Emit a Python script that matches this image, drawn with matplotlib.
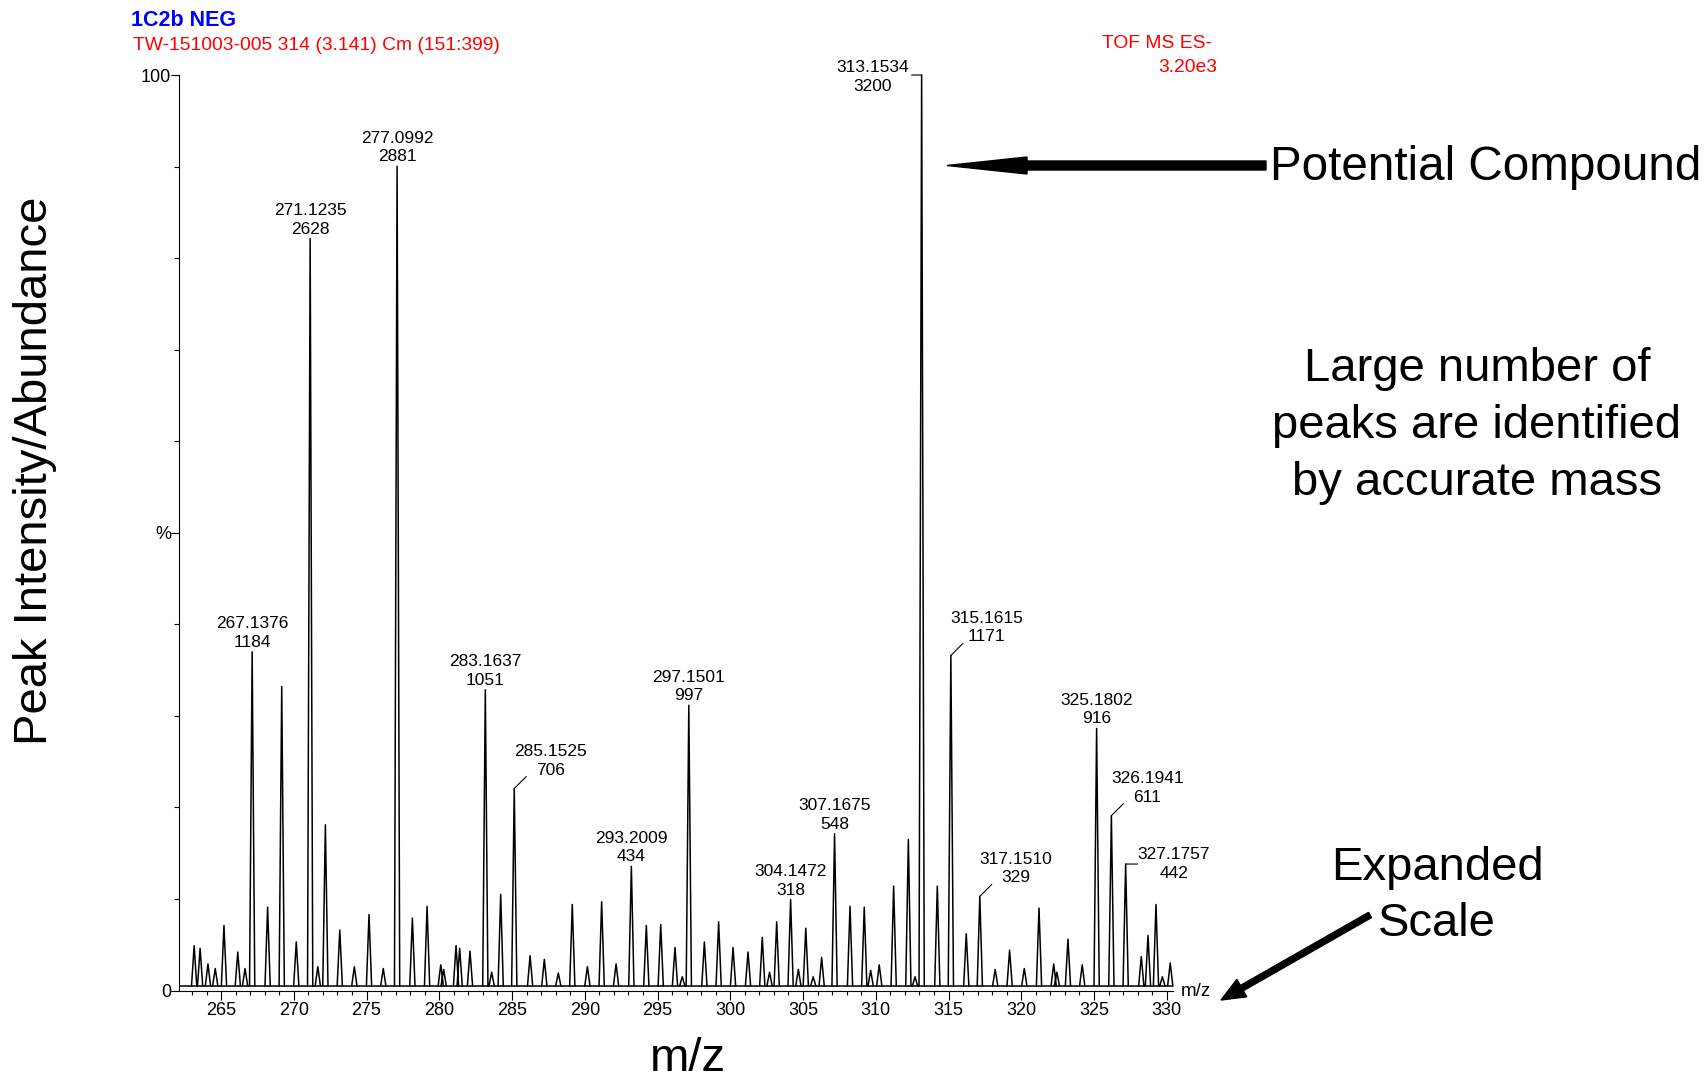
import numpy as np
import matplotlib
matplotlib.use('Agg')
import matplotlib.pyplot as plt
from matplotlib.patches import FancyArrow
from matplotlib.transforms import IdentityTransform

W, H = 1707, 1080
plt.rcParams['font.family'] = ['Liberation Sans', 'DejaVu Sans']

# labelled peaks (m/z, counts) and how the label is placed
label_mz = [267.1376, 271.1235, 277.0992, 283.1637, 285.1525, 293.2009, 297.1501,
            304.1472, 307.1675, 313.1534, 315.1615, 317.1510, 325.1802, 326.1941, 327.1757]
label_counts = [1184, 2628, 2881, 1051, 706, 434, 997, 318, 548, 3200, 1171, 329, 916, 611, 442]
label_style = ['top', 'top', 'top', 'top', 'diag', 'top', 'top', 'top', 'top',
               'left', 'diag', 'diag', 'top', 'diag', 'right']
full_scale = 3200

# unlabelled peaks (% of full scale)
minor_mz = [263.15, 263.56, 264.10, 264.60, 265.20, 266.15, 266.65, 268.20, 269.17, 270.17,
            271.65, 272.17, 273.16, 274.16, 275.17, 276.15, 278.15, 279.16, 280.10, 280.30,
            281.15, 281.40, 282.11, 283.60, 284.22, 286.24, 287.22, 288.18, 289.14, 290.18,
            291.16, 292.15, 294.23, 295.22, 296.20, 296.70, 298.22, 299.20, 300.19, 301.22,
            302.20, 302.70, 303.19, 304.68, 305.19, 305.70, 306.28, 308.23, 309.21, 309.65,
            310.24, 311.23, 312.24, 312.70, 314.23, 316.22, 318.21, 319.20, 320.21, 321.22,
            322.23, 322.45, 323.21, 324.19, 328.25, 328.71, 329.26, 329.70, 330.24]
minor_pct = [4.9, 4.6, 2.9, 2.4, 7.1, 4.2, 2.4, 9.1, 33.2, 5.3,
             2.6, 18.1, 6.6, 2.6, 8.3, 2.4, 7.9, 9.2, 2.8, 2.3,
             4.9, 4.6, 4.3, 2.0, 10.5, 3.8, 3.4, 1.9, 9.4, 2.6,
             9.7, 2.9, 7.1, 7.2, 4.7, 1.5, 5.3, 7.5, 4.7, 4.2,
             5.8, 2.0, 7.5, 2.3, 6.8, 1.5, 3.6, 9.2, 9.1, 2.2,
             2.8, 11.4, 16.5, 1.5, 11.4, 6.2, 2.3, 4.4, 2.4, 9.0,
             2.9, 2.0, 5.6, 2.8, 3.7, 6.0, 9.4, 1.5, 3.0]
base_pct = 0.5

x_ticks = list(range(265, 331, 5))

label_pct = [c / full_scale * 100 for c in label_counts]
all_mz = minor_mz + label_mz
all_pct = minor_pct + label_pct

fig = plt.figure(figsize=(W / 100, H / 100), dpi=100)
ax = fig.add_axes([179.3 / W, 1 - 990.5 / H, (1173 - 179.3) / W, (990.5 - 75) / H])

# profile peaks
hw = 0.18
xs, ys = [], []
for m, p in zip(all_mz, all_pct):
    xs += [m - hw, m, m + hw, np.nan]
    ys += [base_pct, p, base_pct, np.nan]
ax.plot(xs, ys, color='black', lw=1.1, clip_on=False)
ax.plot([262.2, 330.35], [base_pct, base_pct], color='black', lw=1.1)

ax.set_xlim(262.13, 330.43)
ax.set_ylim(0, 100)
for s in ['top', 'right']:
    ax.spines[s].set_visible(False)
for s in ['left', 'bottom']:
    ax.spines[s].set_linewidth(0.8)

ax.set_xticks(x_ticks)
ax.set_xticklabels([str(t) for t in x_ticks])
ax.set_xticks(range(263, 331), minor=True)
ax.set_yticks([0, 50, 100])
ax.set_yticklabels(['0', '%', '100'])
ax.set_yticks(range(10, 100, 10), minor=True)
ax.tick_params(axis='x', which='major', length=6.5, width=0.8, labelsize=13, pad=2)
ax.tick_params(axis='x', which='minor', length=3.2, width=0.8)
ax.tick_params(axis='y', which='major', length=5.8, width=0.8, labelsize=13, pad=0)
ax.tick_params(axis='y', which='minor', length=3.6, width=0.8)

# peak labels
fs = 12.5
for m, c, p, st in zip(label_mz, label_counts, label_pct, label_style):
    txt = f'{m:.4f}\n{c}'
    kw = dict(textcoords='offset pixels', fontsize=fs, ha='center', linespacing=1.3,
              annotation_clip=False)
    lead = dict(arrowstyle='-', lw=0.8, color='black', shrinkA=0, shrinkB=0)
    if st == 'top':
        ax.annotate(txt, (m, p), xytext=(0, 2), va='bottom', **kw)
    elif st == 'diag':
        ax.annotate('', (m, p), xytext=(12, 12), textcoords='offset pixels', arrowprops=lead)
        ax.annotate(txt, (m, p), xytext=(36, 11), va='bottom', **kw)
    elif st == 'right':
        ax.annotate('', (m, p), xytext=(12, 0), textcoords='offset pixels', arrowprops=lead)
        ax.annotate(txt, (m, p), xytext=(48, 0), va='center', **kw)
    elif st == 'left':
        ax.annotate('', (m, p), xytext=(-10, 0), textcoords='offset pixels', arrowprops=lead,
                    annotation_clip=False)
        ax.annotate(txt, (m, p), xytext=(-49, -2), va='center', **kw)


def fx(px):
    return px / W


def fy(py):
    return 1 - py / H


# header
fig.text(fx(131), fy(21), '1C2b NEG', color='#0000FF', fontsize=15.5, fontweight='bold', va='center')
fig.text(fx(133), fy(46), 'TW-151003-005 314 (3.141) Cm (151:399)', color='#FF0000', fontsize=13.9, va='center')
fig.text(fx(1212), fy(43), 'TOF MS ES-', color='#FF0000', fontsize=13.9, va='center', ha='right')
fig.text(fx(1217), fy(67), '3.20e3', color='#FF0000', fontsize=13.9, va='center', ha='right')
fig.text(fx(1181), fy(991), 'm/z', fontsize=13.5, va='center', ha='left')

# axis titles
fig.text(fx(35), fy(471), 'Peak Intensity/Abundance', fontsize=34, rotation=90, ha='center', va='center')
fig.text(fx(688), fy(1059), 'm/z', fontsize=34, ha='center', va='center')

# call-outs
fig.text(fx(1270), fy(168), 'Potential Compound', fontsize=34.3, ha='left', va='center')
fig.text(fx(1477), fy(426), 'Large number of\npeaks are identified\nby accurate mass', fontsize=34,
         ha='center', va='center', linespacing=1.38)
fig.text(fx(1437), fy(896), 'Expanded\nScale', fontsize=34, ha='center', va='center', linespacing=1.38)

fig.add_artist(FancyArrow(1266, H - 165.5, 947 - 1266, 0, width=9, head_width=17, head_length=80,
                          length_includes_head=True, color='black', transform=IdentityTransform()))
fig.add_artist(FancyArrow(1370, H - 915, 1221 - 1370, -(1000 - 915), width=6, head_width=20, head_length=24,
                          length_includes_head=True, color='black', transform=IdentityTransform()))

fig.savefig('out.png', dpi=100)
